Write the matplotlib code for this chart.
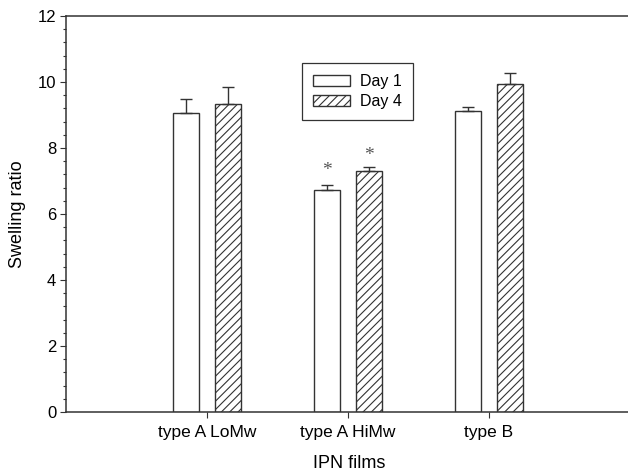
import numpy as np
import matplotlib
matplotlib.use("Agg")
import matplotlib.pyplot as plt
from matplotlib.ticker import MultipleLocator

plt.rcParams["font.family"] = ["Liberation Sans", "DejaVu Sans"]
plt.rcParams["hatch.linewidth"] = 0.8

# data
films = ["type A LoMw", "type A HiMw", "type B"]
day1 = [9.05, 6.74, 9.12]
day1_err = [0.45, 0.13, 0.13]
day4 = [9.32, 7.30, 9.94]
day4_err = [0.52, 0.13, 0.32]
# significance marks (index of film)
starred = [1]

edge = "#333333"


def main():
    fig = plt.figure(figsize=(6.28, 4.75), dpi=100)
    ax = fig.add_axes([0.1051, 0.1326, 0.8949, 0.8337])

    x = np.arange(1, len(films) + 1)
    width = 0.185
    off = 0.15

    ax.bar(x - off, day1, width, color="white", edgecolor=edge, linewidth=1,
           label="Day 1", zorder=2)
    ax.bar(x + off, day4, width, color="white", edgecolor=edge, linewidth=1,
           hatch="////", label="Day 4", zorder=2)

    ekw = dict(fmt="none", ecolor=edge, elinewidth=1, capsize=4.3,
               capthick=1, zorder=3)
    ax.errorbar(x - off, day1, yerr=[np.zeros(len(day1)), day1_err], **ekw)
    ax.errorbar(x + off, day4, yerr=[np.zeros(len(day4)), day4_err], **ekw)

    for i in starred:
        ax.text(x[i] - off, day1[i] + day1_err[i] + 0.45, "*", ha="center",
                va="center", fontsize=14, color="#555555",
                family="Liberation Serif")
        ax.text(x[i] + off, day4[i] + day4_err[i] + 0.33, "*", ha="center",
                va="center", fontsize=14, color="#555555",
                family="Liberation Serif")

    ax.set_xlim(0, 3.986)
    ax.set_ylim(0, 12)
    ax.set_xticks(x)
    ax.set_xticklabels(films)
    ax.yaxis.set_major_locator(MultipleLocator(2))
    ax.yaxis.set_minor_locator(MultipleLocator(0.4))

    ax.tick_params(axis="both", which="major", direction="out", length=4,
                   width=0.8, color=edge)
    ax.tick_params(axis="y", which="minor", direction="out", length=2.2,
                   width=0.8, color=edge)
    ax.tick_params(axis="y", which="major", pad=3, labelsize=12)
    ax.tick_params(axis="x", which="major", pad=5, labelsize=12.5)

    for side in ["left", "bottom", "top"]:
        ax.spines[side].set_color(edge)
        ax.spines[side].set_linewidth(1.1)
    ax.spines["right"].set_visible(False)

    ax.set_ylabel("Swelling ratio", fontsize=13)
    ax.yaxis.set_label_coords(-0.087, 0.5)
    ax.set_xlabel("IPN films", fontsize=13)
    ax.xaxis.set_label_coords(0.504, -0.131)
    ax.xaxis.label.set_va("center")
    ax.yaxis.label.set_va("center")

    leg = ax.legend(loc="upper left", bbox_to_anchor=(0.42, 0.881),
                    fontsize=11.5, fancybox=False, frameon=True,
                    edgecolor="black", handlelength=2.3, handleheight=0.65,
                    borderpad=0.7, labelspacing=0.3, handletextpad=0.6,
                    borderaxespad=0)
    leg.get_frame().set_linewidth(0.9)

    fig.savefig("out.png", dpi=100)


if __name__ == "__main__":
    main()
